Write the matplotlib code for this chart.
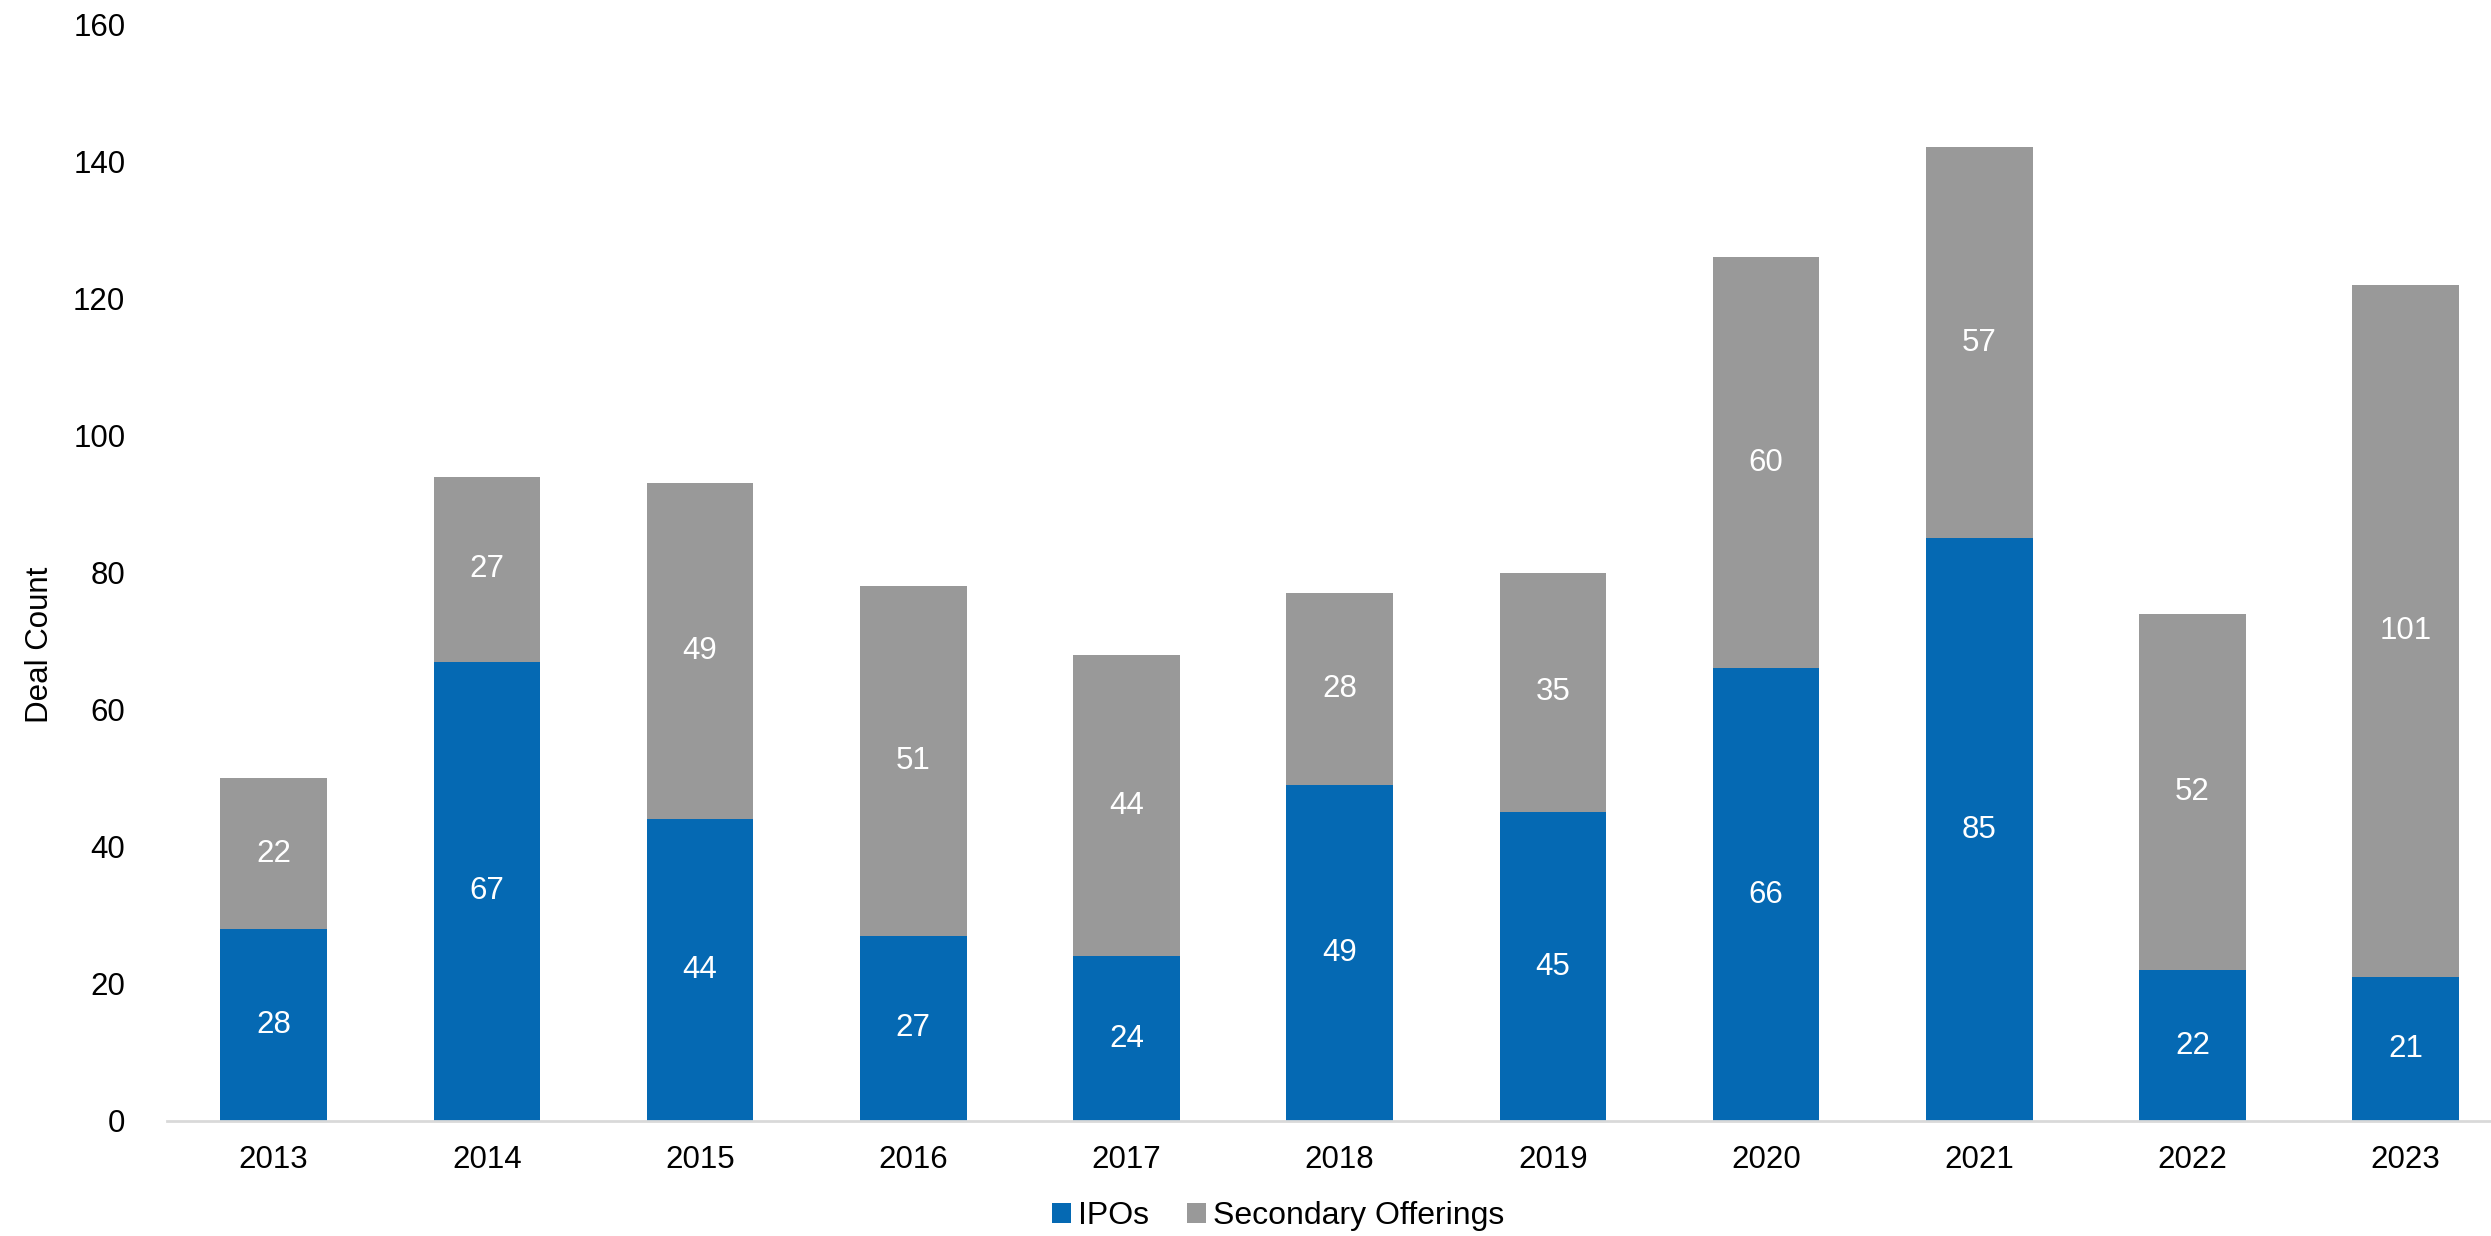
import matplotlib
matplotlib.use('Agg')
import matplotlib.pyplot as plt
import numpy as np

years = ['2013', '2014', '2015', '2016', '2017', '2018', '2019', '2020', '2021', '2022', '2023']
ipos = [28, 67, 44, 27, 24, 49, 45, 66, 85, 22, 21]
secondary = [22, 27, 49, 51, 44, 28, 35, 60, 57, 52, 101]

plt.rcParams['font.family'] = ['Liberation Sans', 'DejaVu Sans']
fs = 22.5

blue = '#0569B3'
gray = '#999999'

fig = plt.figure(figsize=(24.91, 12.36), dpi=100)
# axis runs off the right edge of the canvas
ax = fig.add_axes([167 / 2491, 1 - 1121 / 1236, 1 - 167 / 2491, (1121 - 24) / 1236])

x = np.arange(len(years))
b1 = ax.bar(x, ipos, width=0.5, color=blue, label='IPOs')
b2 = ax.bar(x, secondary, width=0.5, bottom=ipos, color=gray, label='Secondary Offerings')

for i in range(len(years)):
    ax.text(x[i], ipos[i] / 2, str(ipos[i]), ha='center', va='center',
            color='white', fontsize=fs)
    ax.text(x[i], ipos[i] + secondary[i] / 2, str(secondary[i]), ha='center',
            va='center', color='white', fontsize=fs)

ax.set_xlim(-0.5, 10.4)
ax.set_ylim(0, 160)
ax.set_yticks(range(0, 161, 20))
ax.set_xticks(x)
ax.set_xticklabels(years)
ax.tick_params(axis='both', length=0, labelsize=fs)
ax.tick_params(axis='y', pad=30)
ax.tick_params(axis='x', pad=17)

for s in ['top', 'right', 'left']:
    ax.spines[s].set_visible(False)
ax.spines['bottom'].set_color('#d9d9d9')
ax.spines['bottom'].set_linewidth(2)

fig.text(40 / 2491, 1 - 645 / 1236, 'Deal Count', rotation=90, ha='center',
         va='center', fontsize=fs)

fig.legend(handles=[b1, b2], loc='center', bbox_to_anchor=(1278 / 2491, 1 - 1216 / 1236),
           ncol=2, frameon=False, fontsize=23, handlelength=0.6,
           handleheight=0.6, handletextpad=0.2, columnspacing=1.2)

fig.savefig('out.png', dpi=100)
